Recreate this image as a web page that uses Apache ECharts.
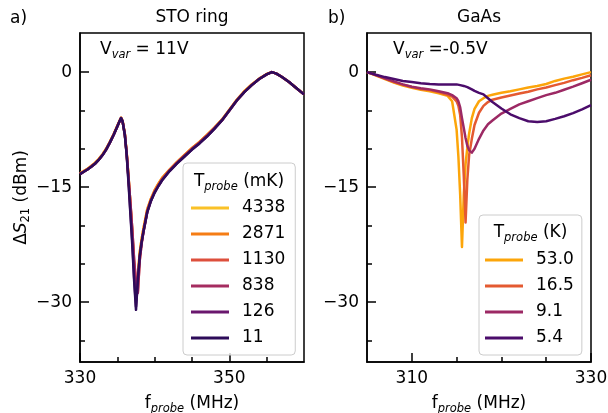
<!DOCTYPE html>
<html>
<head>
<meta charset="utf-8">
<script src="https://cdn.jsdelivr.net/npm/echarts@6/dist/echarts.min.js"></script>
<style>
html, body { margin: 0; padding: 0; background: #ffffff; }
#chart { width: 608px; height: 413px; }
</style>
</head>
<body>
<div id="chart"></div>
<script>
// ---- STO ring sweep (panel a), probe frequency in MHz, response in dB ----
const stoFreq = [330, 330.5, 331, 331.5, 332, 332.5, 333, 333.5, 334, 334.5, 335, 335.3, 335.5, 335.7, 336, 336.25,
                 336.5, 336.75, 337, 337.25, 337.5, 337.75, 338, 338.25, 338.5, 339, 339.5, 340, 340.5, 341, 342, 343,
                 344, 345, 346, 347, 348, 349, 350, 351, 352, 353, 354, 355, 355.7, 356.3, 357, 358, 359, 360];
const sto4338 = [-13.2, -12.9, -12.6, -12.25, -11.85, -11.35, -10.75, -10.0, -9.1, -8.1, -7.0, -6.35, -5.95, -6.35, -8.0, -10.5,
                 -13.6, -17.1, -20.8, -25.3, -28.6, -26.6, -23.5, -21.8, -20.4, -17.9, -16.5, -15.4, -14.55, -13.8, -12.7, -11.7,
                 -10.8, -9.9, -9.1, -8.2, -7.25, -6.2, -4.9, -3.6, -2.5, -1.6, -0.85, -0.25, 0, -0.2, -0.6, -1.3, -2.1, -2.9];
const sto2871 = [-13.2, -12.9, -12.6, -12.25, -11.85, -11.35, -10.75, -10.0, -9.1, -8.1, -7.0, -6.35, -5.95, -6.35, -8.0, -10.5,
                 -13.8, -17.3, -21.0, -25.5, -28.5, -26.5, -23.5, -21.8, -20.4, -17.9, -16.5, -15.4, -14.55, -13.8, -12.7, -11.7,
                 -10.8, -9.9, -9.1, -8.2, -7.25, -6.2, -4.9, -3.6, -2.5, -1.6, -0.85, -0.25, 0, -0.2, -0.6, -1.3, -2.1, -2.9];
const sto1130 = [-13.3, -13.0, -12.7, -12.35, -11.95, -11.45, -10.85, -10.1, -9.2, -8.2, -7.1, -6.4, -6.0, -6.4, -8.1, -10.6,
                 -13.8, -17.0, -20.5, -24.5, -27.4, -28.6, -24.6, -22.4, -20.8, -18.2, -16.7, -15.6, -14.8, -14.0, -12.8, -11.8,
                 -10.9, -10.0, -9.2, -8.3, -7.3, -6.3, -5.0, -3.7, -2.6, -1.7, -0.9, -0.3, 0, -0.2, -0.6, -1.3, -2.1, -2.9];
const sto838  = [-13.3, -13.0, -12.7, -12.35, -11.95, -11.45, -10.85, -10.1, -9.2, -8.2, -7.1, -6.4, -6.0, -6.4, -8.1, -10.6,
                 -13.8, -17.0, -20.5, -24.5, -27.5, -28.8, -24.5, -22.4, -20.8, -18.2, -16.7, -15.6, -14.8, -14.0, -12.8, -11.8,
                 -10.9, -10.0, -9.2, -8.3, -7.3, -6.3, -5.0, -3.7, -2.6, -1.7, -0.9, -0.3, 0, -0.2, -0.6, -1.3, -2.1, -2.9];
const sto126  = [-13.3, -13.0, -12.7, -12.35, -11.95, -11.45, -10.85, -10.1, -9.2, -8.2, -7.1, -6.4, -6.0, -6.4, -8.1, -10.7,
                 -14.2, -18.2, -22.0, -26.8, -30.6, -27.2, -24.0, -22.2, -20.8, -18.3, -16.8, -15.7, -14.85, -14.1, -12.9, -11.9,
                 -11.0, -10.1, -9.3, -8.4, -7.4, -6.3, -5.0, -3.7, -2.6, -1.7, -0.9, -0.3, 0, -0.2, -0.6, -1.3, -2.1, -2.9];
const sto11   = [-13.3, -13.0, -12.7, -12.35, -11.95, -11.45, -10.85, -10.1, -9.2, -8.2, -7.1, -6.4, -6.0, -6.4, -8.2, -10.8,
                 -14.5, -18.5, -22.5, -27.2, -31.0, -27.0, -24.0, -22.2, -20.8, -18.3, -16.8, -15.7, -14.85, -14.1, -12.9, -11.9,
                 -11.0, -10.1, -9.3, -8.4, -7.4, -6.3, -5.0, -3.7, -2.6, -1.7, -0.9, -0.3, 0, -0.2, -0.6, -1.3, -2.1, -2.9];
const stoNames = ['4338', '2871', '1130', '838', '126', '11'];
const stoColors = ['#fac127', '#f57d15', '#dd4f3c', '#a52c60', '#6a176e', '#2d0b59'];

// ---- GaAs sweep (panel b) ----
const gaasFreq = [305, 306, 307, 308, 309, 310, 311, 312, 313, 314, 314.5, 315, 315.2, 315.4, 315.6, 315.8, 316, 316.2,
                  316.4, 316.7, 317, 317.5, 318, 318.5, 319, 320, 321, 322, 323, 324, 325, 326, 327, 328, 329, 330];
const gaas53  = [0, -0.45, -0.9, -1.35, -1.75, -2.05, -2.3, -2.5, -2.75, -3.1, -3.8, -7.5, -11.0, -16.0, -22.8, -16.0, -12.0, -9.8,
                 -8.0, -6.0, -4.8, -3.8, -3.4, -3.1, -2.95, -2.7, -2.5, -2.25, -2.0, -1.8, -1.55, -1.15, -0.85, -0.6, -0.3, 0];
const gaas16  = [0, -0.4, -0.85, -1.3, -1.65, -1.95, -2.2, -2.35, -2.6, -2.95, -3.2, -3.8, -4.4, -5.6, -8.5, -13.5, -19.6, -14.0,
                 -10.8, -8.7, -6.9, -5.3, -4.4, -3.9, -3.6, -3.3, -3.05, -2.8, -2.55, -2.25, -2.0, -1.7, -1.4, -1.05, -0.75, -0.4];
const gaas9   = [0, -0.4, -0.8, -1.2, -1.6, -1.9, -2.1, -2.25, -2.5, -2.75, -3.0, -3.4, -3.8, -4.6, -6.0, -7.3, -8.6, -9.6,
                 -10.2, -10.5, -10.0, -8.7, -7.6, -6.8, -6.3, -5.4, -4.8, -4.2, -3.8, -3.4, -3.0, -2.7, -2.3, -1.9, -1.45, -1.0];
const gaas5   = [0, -0.35, -0.65, -0.9, -1.15, -1.3, -1.45, -1.55, -1.6, -1.6, -1.6, -1.6, -1.65, -1.7, -1.75, -1.8, -1.85, -1.95,
                 -2.05, -2.25, -2.45, -2.7, -2.9, -3.4, -3.9, -4.75, -5.5, -6.0, -6.4, -6.5, -6.4, -6.1, -5.75, -5.35, -4.85, -4.3];
const gaasNames = ['53.0', '16.5', '9.1', '5.4'];
const gaasColors = ['#fca50a', '#e45a31', '#9c2964', '#4b0c6b'];

// ---- axis ticks ----
const stoMajorTicks = [330, 350];
const stoMinorTicks = [335, 340, 345, 355];
const gaasMajorTicks = [310, 330];
const gaasMinorTicks = [315, 320, 325];
const yMajorTicks = [0, -15, -30];
const yMinorTicks = [-35, -25, -20, -10, -5];

const FONT = 'DejaVu Sans';
const FS = 17;
const yRange = { min: -37.8, max: 5.1 };
const PLOT_W = 224, PLOT_H = 329;

const chart = echarts.init(document.getElementById('chart'), null, { renderer: 'canvas' });

const pairs = (xs, ys) => xs.map((x, i) => [x, ys[i]]);
const subRich = {
  m: { fontSize: FS, fontFamily: FONT, color: '#000', lineHeight: 22 },
  s: { fontSize: 11.5, fontFamily: FONT, fontStyle: 'italic', color: '#000', lineHeight: 12, verticalAlign: 'bottom' },
  i: { fontSize: FS, fontFamily: FONT, fontStyle: 'italic', color: '#000', lineHeight: 22 },
  n: { fontSize: 11.5, fontFamily: FONT, color: '#000', lineHeight: 12, verticalAlign: 'bottom' }
};
const tickLine = { color: '#000', width: 1.5 };

function mainX(grid, min, max, ticks) {
  return {
    type: 'value', gridIndex: grid, min: min, max: max, position: 'bottom',
    splitLine: { show: false },
    axisLine: { show: true, onZero: false, lineStyle: tickLine },
    axisTick: { show: true, inside: true, length: 9, customValues: ticks, lineStyle: tickLine },
    axisLabel: { show: true, customValues: ticks, margin: 8, fontSize: FS, fontFamily: FONT, color: '#000',
                 showMinLabel: true, showMaxLabel: true },
    name: '{m|f}{s|probe}{m| (MHz)}', nameLocation: 'middle', nameGap: 31,
    nameTextStyle: { rich: subRich }
  };
}
// Minor-tick axis: declared on the top side and shifted down onto the bottom edge.
function minorX(grid, min, max, ticks) {
  return {
    type: 'value', gridIndex: grid, min: min, max: max, position: 'top', offset: -PLOT_H,
    splitLine: { show: false }, axisLine: { show: false, onZero: false }, axisLabel: { show: false },
    axisTick: { show: true, inside: false, length: 5, customValues: ticks, lineStyle: tickLine }
  };
}
function mainY(grid, withName) {
  const ax = {
    type: 'value', gridIndex: grid, min: yRange.min, max: yRange.max, position: 'left',
    splitLine: { show: false },
    axisLine: { show: true, onZero: false, lineStyle: tickLine },
    axisTick: { show: true, inside: true, length: 9, customValues: yMajorTicks, lineStyle: tickLine },
    axisLabel: { show: true, customValues: yMajorTicks, margin: 8, fontSize: FS, fontFamily: FONT, color: '#000',
                 formatter: v => String(v).replace('-', '\u2212') }
  };
  if (withName) {
    ax.name = '{m|\u0394}{i|S}{n|21}{m| (dBm)}';
    ax.nameLocation = 'middle';
    ax.nameGap = 44;
    ax.nameTextStyle = { rich: subRich };
  }
  return ax;
}
// Minor-tick axis: declared on the right side and shifted onto the left edge.
function minorY(grid) {
  return {
    type: 'value', gridIndex: grid, min: yRange.min, max: yRange.max, position: 'right', offset: -PLOT_W,
    splitLine: { show: false }, axisLine: { show: false, onZero: false }, axisLabel: { show: false },
    axisTick: { show: true, inside: false, length: 5, customValues: yMinorTicks, lineStyle: tickLine }
  };
}

const stoData = [sto4338, sto2871, sto1130, sto838, sto126, sto11];
const gaasData = [gaas53, gaas16, gaas9, gaas5];

const series = [];
stoData.forEach((ys, k) => series.push({
  type: 'line', name: stoNames[k], xAxisIndex: 0, yAxisIndex: 0,
  data: pairs(stoFreq, ys), symbol: 'none', smooth: false,
  color: stoColors[k], lineStyle: { width: 2.5, color: stoColors[k], join: 'round' }, z: 2 + k
}));
gaasData.forEach((ys, k) => series.push({
  type: 'line', name: gaasNames[k], xAxisIndex: 2, yAxisIndex: 2,
  data: pairs(gaasFreq, ys), symbol: 'none', smooth: false,
  color: gaasColors[k], lineStyle: { width: 2.5, color: gaasColors[k], join: 'round' }, z: 2 + k
}));

function legendBox(names, left, top, padding) {
  return {
    data: names, orient: 'vertical', left: left, top: top, padding: padding,
    icon: 'rect', itemWidth: 38, itemHeight: 3, itemGap: 6,
    selectedMode: false,
    backgroundColor: 'rgba(255,255,255,0.8)', borderColor: '#cccccc', borderWidth: 1, borderRadius: 4,
    textStyle: { fontSize: FS, fontFamily: FONT, color: '#000', lineHeight: 20, padding: [0, 0, 0, 8] }
  };
}

function label(x, y, text, align) {
  return {
    type: 'text', x: x, y: y, z: 100,
    style: { text: text, rich: subRich, align: align, verticalAlign: 'middle',
             fontSize: FS, fontFamily: FONT, fill: '#000' }
  };
}

chart.setOption({
  animation: false,
  backgroundColor: '#ffffff',
  grid: [
    { left: 80, top: 33, width: PLOT_W, height: PLOT_H, show: true, borderColor: '#000', borderWidth: 1.5,
      outerBoundsMode: 'none', containLabel: false },
    { left: 367, top: 33, width: PLOT_W, height: PLOT_H, show: true, borderColor: '#000', borderWidth: 1.5,
      outerBoundsMode: 'none', containLabel: false }
  ],
  xAxis: [
    mainX(0, 330, 360, stoMajorTicks), minorX(0, 330, 360, stoMinorTicks),
    mainX(1, 305, 330, gaasMajorTicks), minorX(1, 305, 330, gaasMinorTicks)
  ],
  yAxis: [mainY(0, true), minorY(0), mainY(1, false), minorY(1)],
  legend: [
    legendBox(stoNames, 183, 163, [35, 10, 7, 8]),
    legendBox(gaasNames, 479, 215, [35, 8, 7, 6])
  ],
  graphic: [
    label(10, 19, '{m|a)}', 'left'),
    label(192, 18, '{m|STO ring}', 'center'),
    label(328, 19, '{m|b)}', 'left'),
    label(479, 18, '{m|GaAs}', 'center'),
    label(100, 50, '{m|V}{s|var}{m| = 11V}', 'left'),
    label(393, 50, '{m|V}{s|var}{m| =-0.5V}', 'left'),
    label(239, 182, '{m|T}{s|probe}{m| (mK)}', 'center'),
    label(530.5, 233, '{m|T}{s|probe}{m| (K)}', 'center')
  ],
  series: series
});
</script>
</body>
</html>
